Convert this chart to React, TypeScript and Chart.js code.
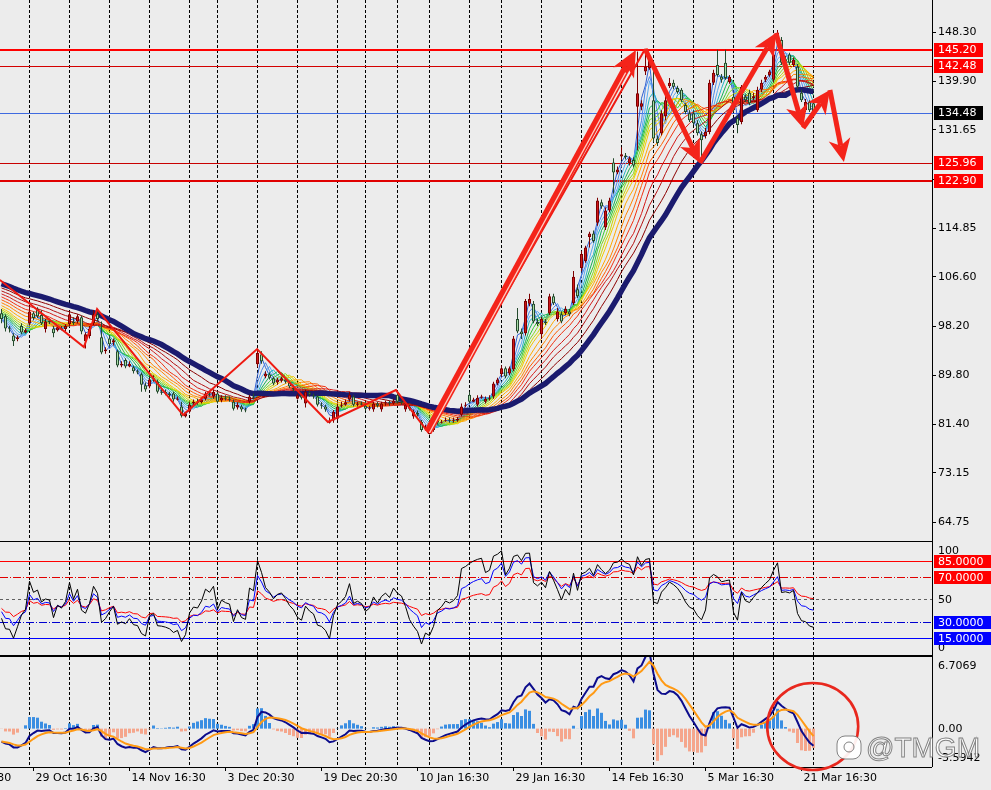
import React, { useEffect, useRef } from 'react';
import { Chart, registerables } from 'chart.js';

Chart.register(...registerables);

// ---------------- data ----------------
// one row per bar: [open, high, low, close]
const ohlc: number[][] = [
  [100.3, 101.0, 98.6, 99.3], [99.8, 100.1, 97.2, 97.7], [97.7, 98.1, 97.0, 97.6], [96.5, 96.9, 94.7, 95.5],
  [95.9, 96.5, 95.5, 96.2], [98.1, 98.6, 96.7, 97.0], [97.0, 97.7, 96.9, 97.4], [98.6, 101.5, 98.3, 100.6],
  [100.3, 100.6, 99.1, 99.5], [101.0, 101.3, 99.5, 99.8], [100.0, 100.8, 98.3, 98.6], [97.6, 99.3, 97.0, 98.9],
  [98.9, 99.3, 98.4, 98.8], [97.7, 98.1, 96.2, 96.9], [97.4, 98.3, 97.2, 97.9], [97.7, 98.1, 97.4, 97.6],
  [97.6, 98.4, 97.2, 98.1], [98.4, 100.6, 98.1, 100.1], [98.9, 99.6, 98.3, 98.6], [98.9, 100.1, 98.6, 99.8],
  [99.6, 99.9, 96.7, 97.2], [95.5, 97.0, 94.3, 96.7], [96.4, 98.1, 96.0, 97.7], [98.6, 100.8, 98.3, 100.1],
  [100.1, 100.8, 98.9, 99.3], [96.2, 98.9, 93.3, 93.6], [93.8, 94.5, 93.4, 94.1], [96.0, 96.4, 94.7, 95.0],
  [95.3, 96.0, 94.8, 95.7], [93.8, 94.1, 91.1, 91.4], [91.4, 92.1, 91.1, 91.7], [92.3, 92.6, 90.9, 91.2],
  [91.2, 92.1, 91.1, 91.7], [91.1, 91.4, 90.0, 90.4], [90.4, 90.7, 89.9, 90.2], [89.9, 90.2, 86.9, 88.1],
  [88.0, 88.5, 86.9, 87.3], [87.8, 89.3, 87.5, 89.0], [89.0, 89.7, 88.6, 89.2], [88.6, 89.0, 86.6, 86.9],
  [86.9, 87.5, 86.4, 86.8], [86.9, 87.3, 86.3, 86.6], [86.6, 86.9, 85.9, 86.3], [86.6, 86.9, 85.2, 85.6],
  [85.6, 86.1, 85.4, 85.7], [84.4, 85.2, 82.5, 82.8], [82.7, 83.5, 82.5, 83.2], [83.5, 85.1, 83.2, 84.7],
  [84.9, 85.6, 84.5, 85.2], [85.2, 85.7, 84.7, 85.1], [85.1, 85.9, 84.9, 85.6], [85.7, 86.9, 85.4, 86.6],
  [86.6, 86.9, 86.1, 86.4], [86.1, 87.3, 85.7, 86.9], [86.6, 86.9, 84.9, 85.2], [85.4, 86.3, 85.1, 85.9],
  [85.9, 86.3, 85.4, 85.7], [85.7, 86.1, 85.2, 85.6], [85.2, 85.6, 83.7, 84.0], [84.2, 85.1, 83.9, 84.7],
  [84.4, 84.7, 83.5, 83.9], [83.9, 84.2, 83.4, 83.7], [85.2, 86.4, 84.9, 86.1], [86.1, 86.6, 85.6, 85.9],
  [91.6, 94.0, 91.1, 93.5], [93.3, 93.8, 91.7, 92.1], [89.5, 90.4, 89.2, 90.0], [89.9, 90.2, 89.0, 89.3],
  [89.2, 89.5, 88.0, 88.3], [88.5, 89.3, 88.1, 89.0], [88.8, 89.5, 88.5, 89.2], [89.0, 89.3, 88.3, 88.6],
  [88.5, 88.8, 87.5, 87.8], [87.6, 88.0, 86.9, 87.3], [85.7, 86.6, 85.6, 86.3], [86.3, 86.6, 85.6, 85.9],
  [84.9, 87.3, 84.2, 86.9], [86.8, 87.1, 86.1, 86.4], [86.3, 86.6, 85.7, 86.1], [86.1, 86.4, 84.4, 84.7],
  [84.7, 85.1, 84.0, 84.5], [84.4, 84.7, 83.5, 83.9], [81.6, 82.5, 81.5, 82.0], [82.0, 83.8, 81.6, 83.5],
  [82.3, 84.9, 82.0, 84.4], [84.5, 85.2, 84.2, 84.7], [84.7, 85.6, 84.5, 85.1], [85.6, 86.9, 85.2, 86.4],
  [86.1, 86.4, 84.4, 84.7], [84.7, 85.2, 84.4, 84.9], [84.9, 85.2, 84.4, 84.7], [84.5, 84.9, 83.7, 84.0],
  [84.0, 84.5, 83.7, 84.2], [83.9, 85.2, 83.5, 84.9], [84.9, 85.2, 84.2, 84.5], [83.9, 85.2, 83.5, 84.9],
  [84.9, 85.4, 84.5, 85.1], [85.1, 85.4, 84.5, 84.9], [84.9, 85.7, 84.7, 85.4], [86.4, 86.9, 84.9, 85.2],
  [85.2, 85.6, 84.7, 85.1], [83.9, 85.1, 83.5, 84.7], [84.4, 84.7, 83.7, 84.0], [82.7, 83.9, 82.3, 83.5],
  [83.3, 83.7, 82.7, 83.0], [81.8, 82.1, 80.1, 80.4], [80.6, 81.3, 80.3, 80.9], [79.7, 80.8, 79.6, 80.4],
  [80.4, 81.1, 80.1, 80.8], [82.0, 82.3, 81.3, 81.6], [81.6, 82.1, 81.5, 81.8], [82.0, 82.5, 81.8, 82.1],
  [82.1, 82.5, 81.6, 82.0], [82.0, 82.5, 81.6, 82.1], [82.0, 82.6, 81.8, 82.3], [83.0, 84.9, 82.7, 84.4],
  [84.5, 85.1, 84.2, 84.7], [86.4, 86.9, 84.9, 85.2], [85.2, 85.9, 85.1, 85.6], [84.7, 86.3, 84.4, 85.9],
  [85.9, 86.4, 85.7, 86.1], [85.2, 86.1, 84.9, 85.7], [85.7, 86.3, 85.4, 85.9], [86.1, 88.6, 85.7, 88.3],
  [88.3, 89.3, 88.0, 89.0], [89.9, 91.4, 89.5, 90.9], [90.9, 91.2, 89.2, 89.5], [90.0, 91.2, 89.7, 90.9],
  [90.7, 96.4, 90.4, 96.0], [99.3, 101.2, 96.9, 97.2], [97.2, 97.7, 95.9, 96.7], [96.9, 102.7, 96.5, 102.4],
  [101.9, 103.6, 101.5, 102.7], [101.9, 102.4, 98.6, 98.9], [98.8, 99.3, 98.1, 98.4], [96.7, 99.6, 95.9, 99.3],
  [98.9, 99.3, 98.3, 98.6], [100.3, 103.6, 100.0, 103.2], [103.2, 103.6, 101.7, 102.0], [99.3, 101.2, 98.9, 100.6],
  [100.1, 100.6, 98.6, 98.9], [100.3, 101.5, 100.0, 101.0], [100.6, 101.0, 99.8, 100.1], [102.0, 107.5, 101.7, 106.5],
  [104.4, 105.2, 102.9, 103.2], [108.0, 110.9, 107.5, 110.4], [109.2, 111.8, 108.9, 111.5], [113.3, 114.2, 111.5, 113.9],
  [113.9, 114.4, 112.3, 112.6], [115.7, 120.0, 115.2, 119.5], [119.2, 119.7, 118.1, 118.5], [114.9, 118.3, 114.5, 117.8],
  [117.8, 120.0, 117.5, 119.5], [126.0, 126.7, 120.7, 124.3], [124.3, 125.3, 124.0, 124.8], [127.0, 128.6, 126.4, 127.4],
  [127.2, 127.6, 126.5, 126.9], [125.9, 127.0, 125.5, 126.7], [126.4, 126.9, 125.2, 125.5], [135.5, 144.9, 128.1, 137.8],
  [135.5, 136.6, 134.9, 136.1], [141.5, 145.4, 140.9, 142.3], [142.1, 144.4, 141.8, 143.5], [136.6, 143.2, 129.5, 130.1],
  [130.1, 130.6, 128.8, 129.3], [131.0, 134.9, 130.6, 134.4], [133.9, 137.5, 133.2, 136.6], [139.0, 140.4, 138.7, 139.6],
  [139.6, 140.1, 138.5, 138.9], [138.7, 139.1, 137.7, 138.0], [138.4, 138.7, 136.3, 136.6], [135.8, 136.1, 134.2, 134.6],
  [134.4, 134.9, 132.9, 133.2], [134.4, 134.9, 132.4, 132.7], [132.7, 133.2, 130.6, 131.0], [130.8, 131.3, 125.9, 129.8],
  [130.5, 131.9, 130.1, 131.2], [131.2, 140.1, 130.8, 139.6], [139.6, 141.8, 139.2, 141.3], [142.6, 145.2, 140.6, 140.9],
  [140.6, 141.1, 139.6, 140.1], [143.0, 145.2, 140.1, 140.4], [139.7, 140.9, 139.4, 140.6], [137.2, 137.7, 134.6, 134.9],
  [133.6, 134.1, 131.0, 132.4], [132.9, 139.2, 132.5, 138.9], [137.2, 137.5, 136.3, 136.6], [137.9, 138.4, 135.8, 136.1],
  [137.0, 137.9, 136.6, 137.3], [134.9, 138.9, 134.6, 138.4], [138.4, 140.1, 138.0, 139.6], [140.1, 140.9, 139.7, 140.6],
  [140.9, 141.8, 140.6, 141.5], [140.1, 144.9, 139.7, 144.4], [146.4, 148.6, 145.9, 148.1], [146.9, 147.4, 142.6, 143.0],
  [143.5, 144.2, 142.8, 143.2], [144.4, 144.7, 142.6, 143.0], [142.6, 143.9, 142.3, 143.5], [142.3, 142.8, 138.5, 138.9],
  [137.9, 138.4, 136.3, 136.6], [134.9, 136.8, 134.6, 136.3], [136.3, 136.6, 134.6, 134.9], [136.1, 136.6, 134.3, 134.48],
];

const gridBars = [7, 17, 27, 37, 47, 54, 64, 74, 84, 91, 99, 107, 117, 125, 135, 145, 155, 163, 173, 183, 193, 203];
const timeBars = [-16, 8, 32, 56, 80, 104, 128, 152, 176, 200];
const timeLabels = ['13 Oct 16:30', '29 Oct 16:30', '14 Nov 16:30', '3 Dec 20:30', '19 Dec 20:30', '10 Jan 16:30',
  '29 Jan 16:30', '14 Feb 16:30', '5 Mar 16:30', '21 Mar 16:30'];

const priceMin = 61.63;
const priceMax = 153.7;
const priceTicks = [148.3, 139.9, 131.65, 123.25, 114.85, 106.6, 98.2, 89.8, 81.4, 73.15, 64.75];
const priceLevels = [145.2, 142.48, 134.48, 125.96, 122.9];
const priceLevelColors = ['#ff0000', '#d40000', '#3f6ae0', '#c80000', '#e00000'];
const priceLevelWidths = [2, 1, 1, 1, 2];
const priceTagColors = ['#ff0000', '#ff0000', '#000000', '#ff0000', '#ff0000'];

// moving-average ribbon (simple MAs); seeds = MA levels at the left edge of the picture
const ribbonPeriods = [2, 3, 4, 5, 6, 7, 8, 9, 10, 12, 14, 16, 18, 21, 24, 28];
const ribbonSeeds = [99.0, 99.3, 99.6, 99.9, 100.2, 100.5, 100.8, 101.1, 101.4, 101.8, 102.3, 102.8, 103.3, 103.8, 104.3, 104.8];
const ribbonColors = ['#2f5fd0', '#4a86e8', '#5aa8f0', '#22b2c4', '#12b054', '#36c830', '#84d820', '#c8d800',
  '#f0c800', '#ffa800', '#ff8400', '#ff5c00', '#f03010', '#d41a18', '#b41010', '#8b0000'];
const navyPeriod = 34;
const navySeed = 105.5;

const zigzagBars = [-0.4, 20.6, 23.9, 45.4, 63.9, 81.6, 98.6, 106.6, 160.9];
const zigzagPrices = [105.96, 94.54, 101.01, 82.94, 94.19, 81.75, 87.2, 80.04, 145.35];

const arrowFromBars = [106.6, 160.9, 174.6, 193.6, 200.4, 207.1];
const arrowFromPrices = [80.04, 145.35, 125.91, 148.07, 131.88, 138.35];
const arrowToBars = [158.6, 174.6, 193.6, 200.4, 207.1, 210.6];
const arrowToPrices = [145.17, 125.91, 148.07, 131.88, 138.35, 126.08];

const rsiPeriods = [6, 12, 24];
const rsiSeeds = [33, 39, 42];
const rsiColors = ['#000000', '#0000ff', '#ff0000'];
const rsiMin = -0.97;
const rsiMax = 103.67;

const macdFast = 6;
const macdSlow = 13;
const macdSignal = 5;
const macdSeedFast = 100.6;
const macdSeedSlow = 101.8;
const macdSeedSignal = -1.2;
const macdMax = 6.7069;
const macdMin = -3.5942;
const circleBar = 202.8;
const circleValue = 0.2;

// ---------------- indicators ----------------
const closes = ohlc.map((d) => d[3]);

function emaSeries(values: number[], n: number, seed: number) {
  const k = 2 / (n + 1);
  let e = seed;
  return values.map((v) => {
    e = e + k * (v - e);
    return e;
  });
}

// simple moving average; bars before the first one are taken at the seed level
function smaSeries(values: number[], n: number, seed: number) {
  const out: number[] = [];
  for (let i = 0; i < values.length; i++) {
    let s = 0;
    for (let j = i - n + 1; j <= i; j++) s += j >= 0 ? values[j] : seed;
    out.push(s / n);
  }
  return out;
}

function rsiSeries(values: number[], n: number, seed: number) {
  const move = 0.8;
  let ag = (move * seed) / 100;
  let al = (move * (100 - seed)) / 100;
  const out = [seed];
  for (let i = 1; i < values.length; i++) {
    const d = values[i] - values[i - 1];
    ag = (ag * (n - 1) + Math.max(d, 0)) / n;
    al = (al * (n - 1) + Math.max(-d, 0)) / n;
    out.push(al === 0 ? 100 : 100 - 100 / (1 + ag / al));
  }
  return out;
}

const fastE = emaSeries(closes, macdFast, macdSeedFast);
const slowE = emaSeries(closes, macdSlow, macdSeedSlow);
const dif = fastE.map((v, i) => v - slowE[i]);
const dea = emaSeries(dif, macdSignal, macdSeedSignal);
const hist = dif.map((v, i) => 2 * (v - dea[i]));

// ---------------- layout helpers ----------------
const X_MIN = -0.375;
const X_MAX = 232.625;
const AXIS_X = 932;
const FONT = '11px "DejaVu Sans", Verdana, sans-serif';

const xScaleOpt = () => ({ type: 'linear', min: X_MIN, max: X_MAX, display: false, offset: false });

function drawGrid(ctx: any, x: any, top: number, bottom: number) {
  ctx.save();
  ctx.strokeStyle = '#000';
  ctx.lineWidth = 1;
  ctx.setLineDash([3, 2]);
  for (const b of gridBars) {
    const px = Math.floor(x.getPixelForValue(b)) + 0.5;
    ctx.beginPath();
    ctx.moveTo(px, top);
    ctx.lineTo(px, bottom);
    ctx.stroke();
  }
  ctx.restore();
}

function drawAxisLine(ctx: any, top: number, bottom: number) {
  ctx.save();
  ctx.strokeStyle = '#000';
  ctx.lineWidth = 1;
  ctx.beginPath();
  ctx.moveTo(AXIS_X + 0.5, top);
  ctx.lineTo(AXIS_X + 0.5, bottom);
  ctx.stroke();
  ctx.restore();
}

function hLine(ctx: any, y: number, x0: number, x1: number, color: string, width: number, dash: number[] = []) {
  ctx.save();
  ctx.strokeStyle = color;
  ctx.lineWidth = width;
  ctx.setLineDash(dash);
  const py = Math.round(y) + (width % 2 ? 0.5 : 0);
  ctx.beginPath();
  ctx.moveTo(x0, py);
  ctx.lineTo(x1, py);
  ctx.stroke();
  ctx.restore();
}

function tag(ctx: any, y: number, text: string, bg: string, right: number, h: number) {
  ctx.save();
  ctx.fillStyle = bg;
  ctx.fillRect(AXIS_X + 2, Math.round(y - h / 2), right - AXIS_X - 2, h);
  ctx.fillStyle = '#fff';
  ctx.font = FONT;
  ctx.textBaseline = 'middle';
  ctx.textAlign = 'left';
  ctx.fillText(text, AXIS_X + 6, y + 0.5);
  ctx.restore();
}

function axisText(ctx: any, y: number, text: string, tick = true) {
  ctx.save();
  ctx.fillStyle = '#000';
  ctx.strokeStyle = '#000';
  ctx.font = FONT;
  ctx.textBaseline = 'middle';
  ctx.textAlign = 'left';
  if (tick) {
    ctx.beginPath();
    ctx.moveTo(AXIS_X, Math.round(y) + 0.5);
    ctx.lineTo(AXIS_X + 4, Math.round(y) + 0.5);
    ctx.stroke();
  }
  ctx.fillText(text, AXIS_X + 6, y + 0.5);
  ctx.restore();
}

function drawArrow(ctx: any, x1: number, y1: number, x2: number, y2: number, w: number, headLen: number, headHalf: number, inner: boolean) {
  const dx = x2 - x1;
  const dy = y2 - y1;
  const L = Math.hypot(dx, dy);
  const ux = dx / L;
  const uy = dy / L;
  const nx = -uy;
  const ny = ux;
  const bx = x2 - ux * headLen;
  const by = y2 - uy * headLen;
  const kx = x2 - ux * headLen * 0.72;
  const ky = y2 - uy * headLen * 0.72;
  ctx.save();
  ctx.fillStyle = '#f4241a';
  ctx.beginPath();
  ctx.moveTo(x1 + (nx * w) / 2, y1 + (ny * w) / 2);
  ctx.lineTo(kx + (nx * w) / 2, ky + (ny * w) / 2);
  ctx.lineTo(kx - (nx * w) / 2, ky - (ny * w) / 2);
  ctx.lineTo(x1 - (nx * w) / 2, y1 - (ny * w) / 2);
  ctx.closePath();
  ctx.fill();
  ctx.beginPath();
  ctx.moveTo(x2, y2);
  ctx.lineTo(bx + nx * headHalf, by + ny * headHalf);
  ctx.lineTo(kx, ky);
  ctx.lineTo(bx - nx * headHalf, by - ny * headHalf);
  ctx.closePath();
  ctx.fill();
  if (inner) {
    ctx.strokeStyle = 'rgba(255,215,205,0.95)';
    ctx.lineWidth = 1.2;
    ctx.beginPath();
    ctx.moveTo(x1 + nx * (w / 2 - 2.2), y1 + ny * (w / 2 - 2.2));
    ctx.lineTo(kx + nx * (w / 2 - 2.2) - ux * 6, ky + ny * (w / 2 - 2.2) - uy * 6);
    ctx.stroke();
  }
  ctx.restore();
}

// ---------------- plugins ----------------
const mainDeco = {
  id: 'mainDeco',
  beforeDatasetsDraw(chart: any) {
    const { ctx, chartArea: a, scales } = chart;
    drawGrid(ctx, scales.x, a.top, a.bottom);
    priceLevels.forEach((v, k) => {
      hLine(ctx, scales.y.getPixelForValue(v), a.left, a.right, priceLevelColors[k], priceLevelWidths[k]);
    });
  },
  afterDatasetsDraw(chart: any) {
    const { ctx, scales } = chart;
    const x = scales.x;
    const y = scales.y;
    arrowFromBars.forEach((b, k) => {
      const big = k === 0;
      drawArrow(ctx, x.getPixelForValue(b), y.getPixelForValue(arrowFromPrices[k]),
        x.getPixelForValue(arrowToBars[k]), y.getPixelForValue(arrowToPrices[k]),
        big ? 8 : 5, big ? 26 : 23, big ? 12 : 11, big);
    });
  },
  afterDraw(chart: any) {
    const { ctx, chartArea: a, scales } = chart;
    const y = scales.y;
    drawAxisLine(ctx, 0, a.bottom);
    priceTicks.forEach((v) => axisText(ctx, y.getPixelForValue(v), v.toFixed(2)));
    priceLevels.forEach((v, k) => tag(ctx, y.getPixelForValue(v), v.toFixed(2), priceTagColors[k], 983, 14));
  },
};

const rsiDeco = {
  id: 'rsiDeco',
  beforeDatasetsDraw(chart: any) {
    const { ctx, chartArea: a, scales } = chart;
    const y = scales.y;
    drawGrid(ctx, scales.x, 2, a.bottom - 1);
    hLine(ctx, y.getPixelForValue(85), 0, AXIS_X, '#ff0000', 1);
    hLine(ctx, y.getPixelForValue(70), 0, AXIS_X, '#e00000', 1, [8, 2, 1, 2]);
    hLine(ctx, y.getPixelForValue(50), 0, AXIS_X, '#606060', 1, [3, 3]);
    hLine(ctx, y.getPixelForValue(30), 0, AXIS_X, '#0000d0', 1, [8, 2, 1, 2]);
    hLine(ctx, y.getPixelForValue(15), 0, AXIS_X, '#0000ff', 1);
  },
  afterDraw(chart: any) {
    const { ctx, chartArea: a, scales } = chart;
    const y = scales.y;
    hLine(ctx, 1, 0, AXIS_X, '#000', 1);
    hLine(ctx, a.bottom - 1, 0, AXIS_X, '#000', 1);
    drawAxisLine(ctx, 0, a.bottom);
    axisText(ctx, y.getPixelForValue(100) + 7, '100', false);
    axisText(ctx, y.getPixelForValue(0) - 7, '0', false);
    axisText(ctx, y.getPixelForValue(50), '50', false);
    tag(ctx, y.getPixelForValue(85) + 0.5, '85.0000', '#ff0000', 991, 13);
    tag(ctx, y.getPixelForValue(70) + 0.5, '70.0000', '#ff0000', 991, 13);
    tag(ctx, y.getPixelForValue(30) + 0.5, '30.0000', '#0000ff', 991, 13);
    tag(ctx, y.getPixelForValue(15) + 0.5, '15.0000', '#0000ff', 991, 13);
  },
};

const macdDeco = {
  id: 'macdDeco',
  beforeDatasetsDraw(chart: any) {
    const { ctx, chartArea: a, scales } = chart;
    drawGrid(ctx, scales.x, a.top, a.bottom);
  },
  afterDraw(chart: any) {
    const { ctx, chartArea: a, scales } = chart;
    const x = scales.x;
    const y = scales.y;
    hLine(ctx, a.top - 1, 0, AXIS_X, '#000', 1);
    hLine(ctx, a.bottom, 0, AXIS_X, '#000', 1);
    drawAxisLine(ctx, 0, a.bottom);
    axisText(ctx, a.top + 9, macdMax.toFixed(4), false);
    axisText(ctx, y.getPixelForValue(0), '0.00', false);
    axisText(ctx, a.bottom - 9, macdMin.toFixed(4), false);
    // time axis
    ctx.save();
    ctx.font = FONT;
    ctx.fillStyle = '#000';
    ctx.strokeStyle = '#000';
    ctx.textBaseline = 'middle';
    ctx.textAlign = 'left';
    timeBars.forEach((b, k) => {
      const px = Math.floor(x.getPixelForValue(b)) + 0.5;
      ctx.beginPath();
      ctx.moveTo(px, a.bottom);
      ctx.lineTo(px, a.bottom + 4);
      ctx.stroke();
      ctx.fillText(timeLabels[k], px + 2, a.bottom + 11.5);
    });
    ctx.restore();
    // red circle annotation
    ctx.save();
    ctx.strokeStyle = '#e8281e';
    ctx.lineWidth = 2.6;
    ctx.beginPath();
    ctx.ellipse(x.getPixelForValue(circleBar), y.getPixelForValue(circleValue), 45.5, 43.5, 0, 0, Math.PI * 2);
    ctx.stroke();
    ctx.restore();
    // watermark
    ctx.save();
    ctx.fillStyle = 'rgba(255,255,255,0.92)';
    ctx.strokeStyle = 'rgba(110,110,110,0.85)';
    ctx.lineWidth = 1;
    ctx.beginPath();
    ctx.roundRect(837, 80, 24, 23, 8);
    ctx.fill();
    ctx.stroke();
    ctx.beginPath();
    ctx.arc(849, 91, 5, 0, Math.PI * 2);
    ctx.stroke();
    ctx.font = '28px "Liberation Sans", Arial, sans-serif';
    ctx.textBaseline = 'alphabetic';
    ctx.textAlign = 'left';
    ctx.fillText('@TMGM', 866, 101);
    ctx.strokeText('@TMGM', 866, 101);
    ctx.restore();
  },
};

// ---------------- configs ----------------
const isBull = (d: number[]) => d[3] >= d[0];
const bullFill = '#d0161a';
const bullLine = '#7c0000';
const bearFill = '#a8dca8';
const bearLine = '#244a2c';

function mainConfig(): any {
  const ribbon = ribbonPeriods.map((p, k) => {
    const vals = smaSeries(closes, p, ribbonSeeds[k]);
    return {
      type: 'line',
      data: vals.map((v, i) => ({ x: i, y: v })),
      borderColor: ribbonColors[k],
      borderWidth: 1,
      pointRadius: 0,
      tension: 0,
      fill: false,
      order: 10 + (ribbonPeriods.length - k),
    };
  });
  const navy = smaSeries(closes, navyPeriod, navySeed);
  return {
    type: 'bar',
    data: {
      datasets: [
        {
          type: 'line',
          data: zigzagBars.map((b, k) => ({ x: b, y: zigzagPrices[k] })),
          borderColor: '#ee1a12',
          borderWidth: 2,
          pointRadius: 0,
          tension: 0,
          fill: false,
          order: -1,
        },
        {
          type: 'bar',
          data: ohlc.map((d, i) => {
            let lo = Math.min(d[0], d[3]);
            let hi = Math.max(d[0], d[3]);
            if (hi - lo < 0.2) {
              const m = (hi + lo) / 2;
              lo = m - 0.1;
              hi = m + 0.1;
            }
            return { x: i, y: [lo, hi] };
          }),
          backgroundColor: ohlc.map((d) => (isBull(d) ? bullFill : bearFill)),
          borderColor: ohlc.map((d) => (isBull(d) ? bullLine : bearLine)),
          borderWidth: 1,
          borderSkipped: false,
          barThickness: 3,
          inflateAmount: 0,
          grouped: false,
          order: 0,
        },
        {
          type: 'bar',
          data: ohlc.map((d, i) => ({ x: i, y: [d[2], d[1]] })),
          backgroundColor: ohlc.map((d) => (isBull(d) ? bullLine : bearLine)),
          borderWidth: 0,
          barThickness: 1,
          inflateAmount: 0,
          grouped: false,
          order: 1,
        },
        {
          type: 'line',
          data: navy.map((v, i) => ({ x: i, y: v })),
          borderColor: '#1b1b6e',
          borderWidth: 5.5,
          pointRadius: 0,
          tension: 0,
          fill: false,
          order: 5,
        },
        ...ribbon,
      ],
    },
    options: {
      animation: false,
      responsive: false,
      devicePixelRatio: 1,
      events: [],
      layout: { padding: { left: 0, right: 59, top: 0, bottom: 0 } },
      plugins: { legend: { display: false }, tooltip: { enabled: false } },
      scales: {
        x: xScaleOpt(),
        y: { type: 'linear', min: priceMin, max: priceMax, display: false },
      },
    },
    plugins: [mainDeco],
  };
}

function rsiConfig(): any {
  const sets = rsiPeriods.map((p, k) => ({
    type: 'line',
    data: rsiSeries(closes, p, rsiSeeds[k]).map((v, i) => ({ x: i, y: v })),
    borderColor: rsiColors[k],
    borderWidth: 1,
    pointRadius: 0,
    tension: 0,
    fill: false,
    order: k,
  }));
  return {
    type: 'line',
    data: { datasets: sets },
    options: {
      animation: false,
      responsive: false,
      devicePixelRatio: 1,
      events: [],
      layout: { padding: { left: 0, right: 59, top: 0, bottom: 0 } },
      plugins: { legend: { display: false }, tooltip: { enabled: false } },
      scales: {
        x: xScaleOpt(),
        y: { type: 'linear', min: rsiMin, max: rsiMax, display: false },
      },
    },
    plugins: [rsiDeco],
  };
}

function macdConfig(): any {
  return {
    type: 'bar',
    data: {
      datasets: [
        {
          type: 'line',
          data: dea.map((v, i) => ({ x: i, y: v })),
          borderColor: '#ff9a14',
          borderWidth: 2,
          pointRadius: 0,
          tension: 0,
          fill: false,
          order: 0,
        },
        {
          type: 'line',
          data: dif.map((v, i) => ({ x: i, y: v })),
          borderColor: '#0c0c8c',
          borderWidth: 2,
          pointRadius: 0,
          tension: 0,
          fill: false,
          order: 1,
        },
        {
          type: 'bar',
          data: hist.map((v, i) => ({ x: i, y: [0, v] })),
          backgroundColor: hist.map((v) => (v >= 0 ? '#3a8ee2' : '#f5a68c')),
          borderWidth: 0,
          barThickness: 3,
          inflateAmount: 0,
          grouped: false,
          order: 2,
        },
      ],
    },
    options: {
      animation: false,
      responsive: false,
      devicePixelRatio: 1,
      events: [],
      layout: { padding: { left: 0, right: 59, top: 1, bottom: 23 } },
      plugins: { legend: { display: false }, tooltip: { enabled: false } },
      scales: {
        x: xScaleOpt(),
        y: { type: 'linear', min: macdMin, max: macdMax, display: false },
      },
    },
    plugins: [macdDeco],
  };
}

export default function App() {
  const mainRef = useRef<HTMLCanvasElement>(null);
  const rsiRef = useRef<HTMLCanvasElement>(null);
  const macdRef = useRef<HTMLCanvasElement>(null);

  useEffect(() => {
    const charts: Chart[] = [];
    if (mainRef.current) charts.push(new Chart(mainRef.current, mainConfig()));
    if (rsiRef.current) charts.push(new Chart(rsiRef.current, rsiConfig()));
    if (macdRef.current) charts.push(new Chart(macdRef.current, macdConfig()));
    return () => charts.forEach((c) => c.destroy());
  }, []);

  return (
    <div style={{ position: 'absolute', left: 0, top: 0, width: 991, height: 790, background: '#ececec', overflow: 'hidden' }}>
      <canvas ref={mainRef} width={991} height={540} style={{ position: 'absolute', left: 0, top: 0, width: 991, height: 540 }} />
      <canvas ref={rsiRef} width={991} height={116} style={{ position: 'absolute', left: 0, top: 540, width: 991, height: 116 }} />
      <canvas ref={macdRef} width={991} height={134} style={{ position: 'absolute', left: 0, top: 656, width: 991, height: 134 }} />
    </div>
  );
}
